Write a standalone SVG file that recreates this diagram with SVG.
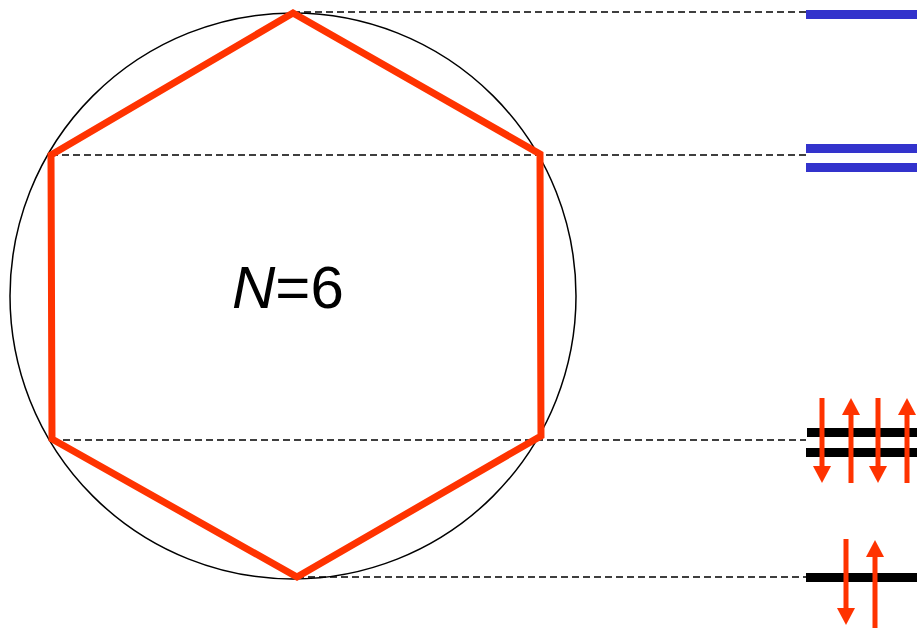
<svg xmlns="http://www.w3.org/2000/svg" width="917" height="628" viewBox="0 0 917 628">
<style>
.dash{stroke:#000;stroke-width:1.5;stroke-dasharray:7 4;fill:none}
.blue{fill:#3333CC}
.blk{fill:#000}
.arr{stroke:#FF3300;stroke-width:5;fill:none}
.head{fill:#FF3300}
</style>
<rect width="917" height="628" fill="#fff"/>
<g id="connectors">
<line class="dash" x1="293" y1="12" x2="806" y2="12"/>
<line class="dash" x1="51" y1="155" x2="806" y2="155"/>
<line class="dash" x1="52" y1="440" x2="806" y2="440"/>
<line class="dash" x1="297" y1="577" x2="806" y2="577"/>
</g>
<g id="circle"><circle cx="293" cy="296" r="283" fill="none" stroke="#000" stroke-width="1.5"/></g>
<g id="hexagon"><polygon points="293,13 540,154 541,436 297,577 52,439 51,155" fill="none" stroke="#FF3300" stroke-width="7" stroke-linejoin="miter"/></g>
<g id="label"><text x="232" y="308" font-family="Liberation Sans, Arial, sans-serif" font-size="60"><tspan font-style="italic">N</tspan>=6</text></g>
<g id="levels">
<rect class="blue" x="806" y="10" width="111" height="9"/>
<rect class="blue" x="806" y="144" width="111" height="9"/>
<rect class="blue" x="806" y="163" width="111" height="9"/>
<rect class="blk" x="807" y="428" width="110" height="9"/>
<rect class="blk" x="806" y="448" width="111" height="9"/>
<rect class="blk" x="806" y="573" width="111" height="9"/>
</g>
<g id="spins">
<line class="arr" x1="822" y1="398" x2="822" y2="468"/><polygon class="head" points="813,466 831,466 822,483"/>
<line class="arr" x1="851" y1="483" x2="851" y2="413"/><polygon class="head" points="842,415 860,415 851,398"/>
<line class="arr" x1="878" y1="398" x2="878" y2="468"/><polygon class="head" points="869,466 887,466 878,483"/>
<line class="arr" x1="907" y1="483" x2="907" y2="413"/><polygon class="head" points="898,415 916,415 907,398"/>
<line class="arr" x1="846" y1="539" x2="846" y2="610"/><polygon class="head" points="837,608 855,608 846,625"/>
<line class="arr" x1="875" y1="628" x2="875" y2="555"/><polygon class="head" points="866,557 884,557 875,540"/>
</g>
</svg>
